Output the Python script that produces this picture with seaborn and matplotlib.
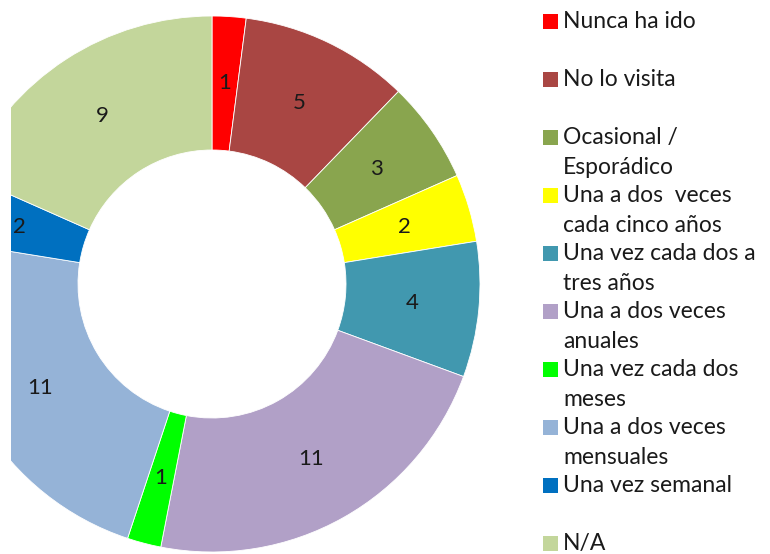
import matplotlib
matplotlib.use("Agg")
import matplotlib.pyplot as plt
import seaborn as sns
import numpy as np
from matplotlib.patches import Rectangle

sns.set_theme(style="white")
plt.rcParams['font.family'] = ['Lato', 'DejaVu Sans']

categories = ["Nunca ha ido", "No lo visita", "Ocasional /\nEsporádico",
              "Una a dos  veces\ncada cinco años", "Una vez cada dos a\ntres años",
              "Una a dos veces\nanuales", "Una vez cada dos\nmeses",
              "Una a dos veces\nmensuales", "Una vez semanal", "N/A"]
values = [1, 5, 3, 2, 4, 11, 1, 11, 2, 9]
colors = ["#FF0000", "#A94643", "#89A54E", "#FFFF00", "#4198AF",
          "#B1A0C7", "#00FF00", "#95B3D7", "#0070C0", "#C3D69B"]

W, H = 770, 554
fig = plt.figure(figsize=(W / 100, H / 100), dpi=100)
fig.patch.set_facecolor("white")

# donut: center (212, 284) px from top-left, radius 268 px, clipped at x=11
cx, cy, R = 212, 284, 268
left_px, right_px = 11, 482
ax = fig.add_axes([left_px / W, (H - cy - R) / H, (right_px - left_px) / W, 2 * R / H])
wedges, texts = ax.pie(values, colors=colors, startangle=90, counterclock=False,
                       radius=1.0, wedgeprops=dict(width=0.5, edgecolor="white", linewidth=0.6))
for w, v in zip(wedges, values):
    w.set_clip_on(True)
    ang = np.deg2rad((w.theta1 + w.theta2) / 2)
    ax.text(0.75 * np.cos(ang), 0.75 * np.sin(ang), str(v), ha="center", va="center",
            fontsize=16, color="#1a1a1a")
ax.set_xlim((left_px - cx) / R, (right_px - cx) / R)
ax.set_ylim(-1, 1)
ax.set_aspect("auto")
ax.axis("off")

# legend
sq = 15
for i, (lab, col) in enumerate(zip(categories, colors)):
    yc = 21.5 + 58.0 * i
    fig.patches.append(Rectangle((543 / W, (H - yc - sq / 2) / H), sq / W, sq / H,
                                 transform=fig.transFigure, facecolor=col, edgecolor="none"))
    for j, line in enumerate(lab.split("\n")):
        fig.text(563 / W, (H - (yc + 30 * j)) / H, line, ha="left", va="center",
                 fontsize=16.5, color="#1a1a1a")

fig.savefig("out.png", dpi=100, facecolor="white")
